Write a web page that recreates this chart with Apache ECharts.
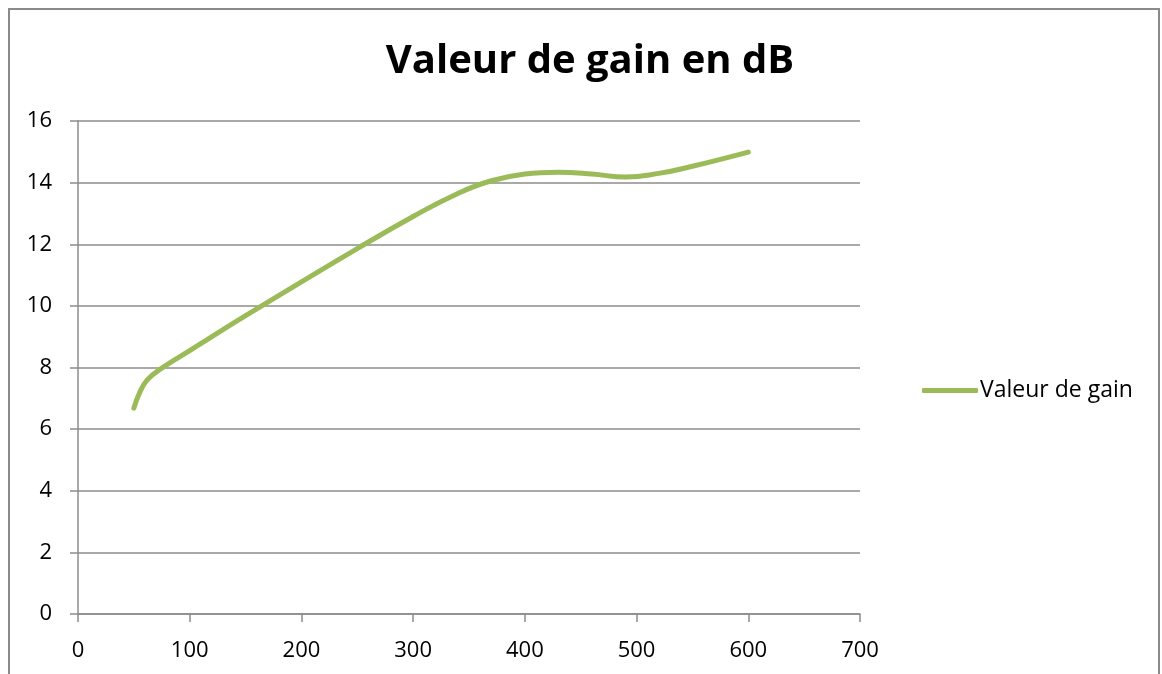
<!DOCTYPE html>
<html>
<head>
<meta charset="utf-8">
<script src="https://cdn.jsdelivr.net/npm/echarts@6/dist/echarts.min.js"></script>
<style>
  html, body { margin: 0; padding: 0; background: #ffffff; }
  #chart { width: 1162px; height: 674px; }
</style>
</head>
<body>
<div id="chart"></div>
<script>
// Gain curve: frequency positions and gain in dB
const frequencies = [50, 55, 62, 75, 100, 150, 200, 250, 300, 340, 370, 400, 430, 460, 490, 520, 550, 600];
const gainDb      = [6.68, 7.17, 7.6, 7.98, 8.55, 9.68, 10.78, 11.86, 12.9, 13.65, 14.06, 14.28, 14.34, 14.28, 14.18, 14.3, 14.53, 14.99];
const seriesName  = 'Valeur de gain';
const chartTitle  = 'Valeur de gain en dB';

const points = frequencies.map((f, i) => [f, gainDb[i]]);
const gridGrey = '#8c8c8c';
const lineGreen = '#9bbb59';
const font = 'Open Sans';

const chart = echarts.init(document.getElementById('chart'), null, { renderer: 'canvas' });
chart.setOption({
  animation: false,
  backgroundColor: '#ffffff',
  title: {
    text: chartTitle,
    left: 585,
    textAlign: 'center',
    top: 37,
    textStyle: { fontFamily: font, fontWeight: 'bold', fontSize: 40, color: '#000000' }
  },
  legend: {
    data: [{ name: seriesName, icon: 'roundRect' }],
    left: 917,
    top: 374,
    itemWidth: 56,
    itemHeight: 5,
    itemGap: 0,
    itemStyle: { color: lineGreen, borderWidth: 0 },
    textStyle: { fontFamily: font, fontSize: 23, color: '#000000', padding: [0, 0, 0, -3] }
  },
  grid: { left: 78, right: 302, top: 121, bottom: 60, containLabel: false },
  xAxis: {
    type: 'value',
    min: 0, max: 700, interval: 100,
    axisLine: { show: true, lineStyle: { color: gridGrey, width: 1.5 } },
    axisTick: { show: true, length: 8, lineStyle: { color: gridGrey, width: 1.5 } },
    axisLabel: { margin: 26, fontFamily: font, fontSize: 22, color: '#000000' },
    splitLine: { show: false }
  },
  yAxis: {
    type: 'value',
    min: 0, max: 16, interval: 2,
    axisLine: { show: true, lineStyle: { color: gridGrey, width: 1.5 } },
    axisTick: { show: true, length: 8, lineStyle: { color: gridGrey, width: 1.5 } },
    axisLabel: { margin: 26, fontFamily: font, fontSize: 22, color: '#000000' },
    splitLine: { show: true, lineStyle: { color: gridGrey, width: 1.5 } }
  },
  graphic: [{
    type: 'rect',
    shape: { x: 9, y: 9, width: 1150, height: 720 },
    style: { fill: 'none', stroke: '#8a8a8a', lineWidth: 2 },
    silent: true
  }],
  series: [{
    name: seriesName,
    type: 'line',
    data: points,
    smooth: 0.45,
    showSymbol: false,
    symbol: 'none',
    lineStyle: { color: lineGreen, width: 5, cap: 'round', join: 'round' },
    itemStyle: { color: lineGreen }
  }]
});
</script>
</body>
</html>
